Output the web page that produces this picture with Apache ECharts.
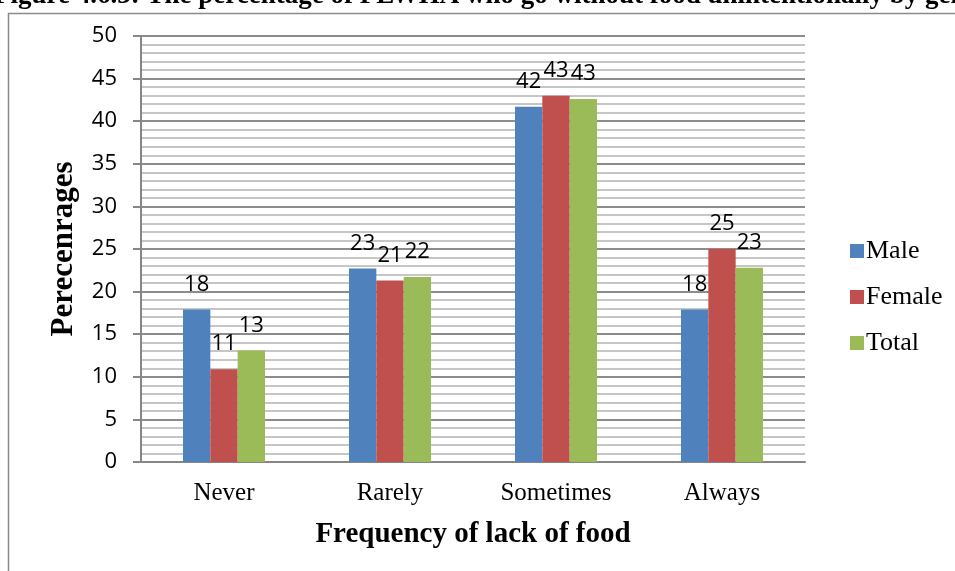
<!DOCTYPE html>
<html>
<head>
<meta charset="utf-8">
<script src="https://cdn.jsdelivr.net/npm/echarts@6/dist/echarts.min.js"></script>
<style>
  html, body { margin: 0; padding: 0; background: #fff; }
  #chart { width: 955px; height: 571px; }
</style>
</head>
<body>
<div id="chart"></div>
<script>
// Frequency categories and percentages per group
const categories = ['Never', 'Rarely', 'Sometimes', 'Always'];
const male   = [17.9, 22.7, 41.7, 17.9];
const female = [10.9, 21.3, 43.0, 25.0];
const total  = [13.1, 21.7, 42.6, 22.8];
const seriesNames = ['Male', 'Female', 'Total'];
const colors = ['#4f81bd', '#c0504d', '#9bbb59'];
const yTicks = { min: 0, max: 50, step: 5 };

const serif = '"Liberation Serif", "Times New Roman", serif';
const sans = '"Open Sans", "Noto Sans", sans-serif';

const chart = echarts.init(document.getElementById('chart'), null, { renderer: 'canvas' });

function barSeries(name, data, color) {
  return {
    name: name,
    type: 'bar',
    data: data,
    barGap: '0%',
    barCategoryGap: '50.6%',
    itemStyle: { color: color },
    label: {
      show: true,
      position: 'top',
      distance: 14,
      fontFamily: sans,
      fontSize: 22,
      color: '#000',
      formatter: p => Math.round(p.value)
    }
  };
}

chart.setOption({
  animation: false,
  backgroundColor: '#fff',
  graphic: [
    {
      type: 'rect',
      shape: { x: 8.5, y: 13.5, width: 1000, height: 600 },
      style: { fill: 'none', stroke: '#8a8a8a', lineWidth: 1.5 },
      z: -1
    },
    {
      type: 'text',
      left: -6,
      top: -17,
      style: {
        text: 'Figure 4.6.3: The percentage of PLWHA who go without food unintentionally by gender',
        font: 'bold 27px ' + serif,
        fill: '#000'
      }
    }
  ],
  grid: { left: 141, right: 150, top: 36, bottom: 109, containLabel: false },
  legend: {
    orient: 'vertical',
    left: 845,
    top: 233,
    itemWidth: 14,
    itemHeight: 14,
    itemGap: 20,
    icon: 'rect',
    data: seriesNames,
    textStyle: { fontFamily: serif, fontSize: 26, color: '#000', padding: [0, 0, 0, -3] }
  },
  xAxis: {
    type: 'category',
    data: categories,
    axisLine: { show: true, lineStyle: { color: '#868686', width: 2 } },
    axisTick: { show: false },
    axisLabel: { fontFamily: serif, fontSize: 25, color: '#000', margin: 19 },
    name: 'Frequency of lack of food',
    nameLocation: 'middle',
    nameGap: 58,
    nameTextStyle: { fontFamily: serif, fontSize: 29, fontWeight: 'bold', color: '#000' }
  },
  yAxis: {
    type: 'value',
    min: yTicks.min,
    max: yTicks.max,
    interval: yTicks.step,
    axisLine: { show: true, lineStyle: { color: '#868686', width: 2 } },
    axisTick: { show: true, length: 8, lineStyle: { color: '#868686', width: 2 } },
    axisLabel: { fontFamily: sans, fontSize: 22, color: '#000', margin: 24 },
    splitLine: { show: true, lineStyle: { color: '#8c8c8c', width: 2 } },
    minorTick: { show: false, splitNumber: 5 },
    minorSplitLine: { show: true, lineStyle: { color: '#c6c6c6', width: 2 } },
    name: 'Perecenrages',
    nameLocation: 'middle',
    nameGap: 62,
    nameRotate: 90,
    nameTextStyle: { fontFamily: serif, fontSize: 31, fontWeight: 'bold', color: '#000' }
  },
  series: [
    barSeries(seriesNames[0], male, colors[0]),
    barSeries(seriesNames[1], female, colors[1]),
    barSeries(seriesNames[2], total, colors[2])
  ]
});
</script>
</body>
</html>
